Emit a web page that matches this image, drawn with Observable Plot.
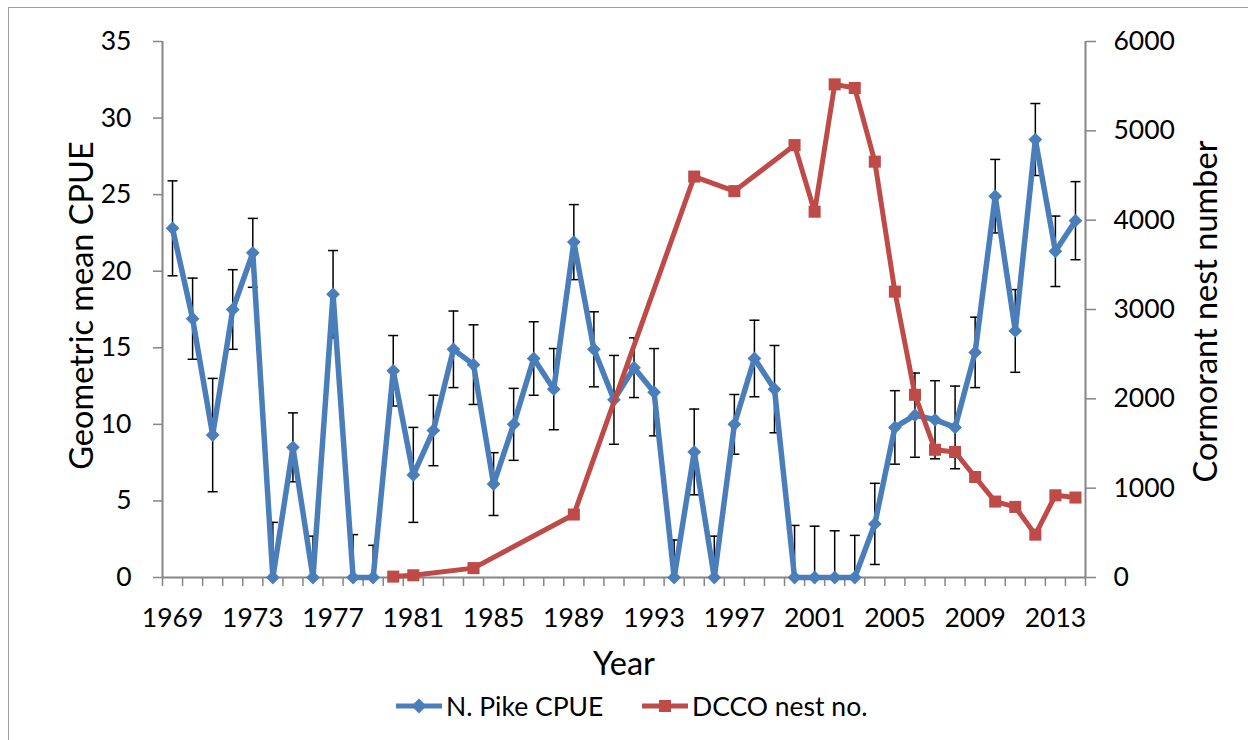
<!DOCTYPE html>
<html>
<head>
<meta charset="utf-8">
<script src="https://cdn.jsdelivr.net/npm/d3@7"></script>
<script src="https://cdn.jsdelivr.net/npm/@observablehq/plot@0.6"></script>
<style>
  html, body { margin: 0; padding: 0; background: #fff; overflow: hidden; }
  #wrap { position: relative; width: 1248px; height: 740px; font-family: Lato, sans-serif; color: #000; }
  #frame { position: absolute; left: 8px; top: 7px; width: 1300px; height: 800px; border: 1.5px solid #a0a0a0; box-sizing: border-box; }
  #chart { position: absolute; left: 0; top: 0; }
  #legend { position: absolute; left: 0; top: 680px; width: 1248px; height: 60px; }
  .item { position: absolute; top: 9px; display: flex; align-items: center; font-size: 26.5px; line-height: 34px; }
  .item svg { display: block; margin-right: 4px; }
</style>
</head>
<body>
<div id="wrap">
  <div id="frame"></div>
  <div id="chart"></div>
  <div id="legend">
    <div class="item" style="left:396px">
      <svg width="46" height="20"><line x1="0" y1="10" x2="46" y2="10" stroke="#4A7EBB" stroke-width="5"/><path d="M23,2.5 L30.5,10 L23,17.5 L15.5,10 Z" fill="#4A7EBB"/></svg>
      <span>N. Pike CPUE</span>
    </div>
    <div class="item" style="left:642px">
      <svg width="46" height="20"><line x1="0" y1="10" x2="46" y2="10" stroke="#BE4B48" stroke-width="5"/><rect x="17" y="4" width="12" height="12" fill="#BE4B48"/></svg>
      <span>DCCO nest no.</span>
    </div>
  </div>
</div>
<script>
// ---- data ----
const years = [1969,1970,1971,1972,1973,1974,1975,1976,1977,1978,
               1979,1980,1981,1982,1983,1984,1985,1986,1987,1988,
               1989,1990,1991,1992,1993,1994,1995,1996,1997,1998,
               1999,2000,2001,2002,2003,2004,2005,2006,2007,2008,
               2009,2010,2011,2012,2013,2014];
const pikeCPUE = [22.8,16.9,9.3,17.5,21.2,0,8.5,0,18.5,0,
                  0,13.5,6.7,9.6,14.9,13.9,6.1,10.0,14.3,12.3,
                  21.9,14.9,11.6,13.7,12.1,0,8.2,0,10.0,14.3,
                  12.3,0,0,0,0,3.5,9.8,10.6,10.3,9.8,
                  14.7,24.9,16.1,28.6,21.3,23.3];
const pikeError = [3.1,2.65,3.7,2.6,2.25,3.6,2.25,2.7,2.85,2.8,
                   2.1,2.3,3.1,2.3,2.5,2.6,2.05,2.35,2.4,2.65,
                   2.45,2.45,2.9,1.95,2.85,2.45,2.8,2.7,1.95,2.5,
                   2.85,3.4,3.35,3.05,2.75,2.65,2.4,2.75,2.55,2.7,
                   2.3,2.4,2.7,2.35,2.3,2.55];
const dccoYears = [1980,1981,1984,1989,1995,1997,2000,2001,2002,2003,2004,
                   2005,2006,2007,2008,2009,2010,2011,2012,2013,2014];
const dccoNests = [10,25,105,705,4488,4325,4840,4095,5520,5480,4655,
                   3200,2045,1430,1405,1125,850,790,480,920,895];
const xTickLabels = [1969,1973,1977,1981,1985,1989,1993,1997,2001,2005,2009,2013];
const leftTicks = [0,5,10,15,20,25,30,35];
const rightTicks = [0,1000,2000,3000,4000,5000,6000];
const leftMax = 35, rightMax = 6000;

// ---- tables ----
const pike = years.map((y, i) => ({year: y, v: pikeCPUE[i], e: pikeError[i]}));
const dcco = dccoYears.map((y, i) => ({year: y, n: dccoNests[i]}));
const toLeft = n => n * leftMax / rightMax;
const boundaries = years.map(y => y - 0.5).concat([years[years.length - 1] + 0.5]);

const BLUE = "#4A7EBB", RED = "#BE4B48", AXIS = "#868686";
const cap = { draw(ctx, size) { const w = 5; ctx.moveTo(-w, 0); ctx.lineTo(w, 0); } };

const chart = Plot.plot({
  width: 1248,
  height: 680,
  marginLeft: 162,
  marginRight: 163,
  marginTop: 41,
  marginBottom: 103,
  style: { fontFamily: "Lato, sans-serif", fontSize: "26.5px", color: "#000", background: "transparent", overflow: "visible" },
  x: { domain: [boundaries[0], boundaries[boundaries.length - 1]] },
  y: { domain: [0, leftMax] },
  marks: [
    // axes
    Plot.axisY(leftTicks, { anchor: "left", tickSize: 9, tickPadding: 22, stroke: AXIS, strokeWidth: 1.5, label: null }),
    Plot.axisY(rightTicks.map(toLeft), { anchor: "right", tickSize: 10, tickPadding: 18, stroke: AXIS, strokeWidth: 1.5,
      tickFormat: d => String(Math.round(d * rightMax / leftMax)), label: null }),
    Plot.axisX(boundaries, { anchor: "bottom", tickSize: 9, stroke: AXIS, strokeWidth: 1.5, fill: "none", label: null }),
    Plot.axisX(xTickLabels, { anchor: "bottom", tickSize: 0, tickPadding: 31, tickFormat: d => String(d), label: null }),
    Plot.ruleX([boundaries[0], boundaries[boundaries.length - 1]], { stroke: AXIS, strokeWidth: 2 }),
    Plot.ruleY([0], { stroke: AXIS, strokeWidth: 2 }),
    // axis titles
    Plot.text(["Geometric mean CPUE"], { frameAnchor: "left", textAnchor: "middle", dx: -80, dy: -4, rotate: -90, fontSize: 32.5 }),
    Plot.text(["Cormorant nest number"], { frameAnchor: "right", textAnchor: "middle", dx: 121, dy: 2, rotate: -90, fontSize: 32.5 }),
    Plot.text(["Year"], { frameAnchor: "bottom", dy: 97, fontSize: 32.5 }),
    // error bars
    Plot.ruleX(pike, { x: "year", y1: d => Math.max(0, d.v - d.e), y2: d => d.v + d.e, stroke: "#000", strokeWidth: 1.5 }),
    Plot.dot(pike, { x: "year", y: d => d.v + d.e, symbol: cap, r: 5, stroke: "#000", strokeWidth: 1.5, fill: "none" }),
    Plot.dot(pike.filter(d => d.v - d.e >= 0), { x: "year", y: d => d.v - d.e, symbol: cap, r: 5, stroke: "#000", strokeWidth: 1.5, fill: "none" }),
    // pike series
    Plot.line(pike, { x: "year", y: "v", stroke: BLUE, strokeWidth: 5.5, strokeLinejoin: "miter" }),
    Plot.dot(pike, { x: "year", y: "v", symbol: "diamond2", r: 6.2, fill: BLUE, stroke: "none" }),
    // cormorant series
    Plot.line(dcco, { x: "year", y: d => toLeft(d.n), stroke: RED, strokeWidth: 5, strokeLinejoin: "round" }),
    Plot.dot(dcco, { x: "year", y: d => toLeft(d.n), symbol: "square", r: 6.8, fill: RED, stroke: "none" })
  ]
});
document.getElementById("chart").appendChild(chart);
</script>
</body>
</html>
